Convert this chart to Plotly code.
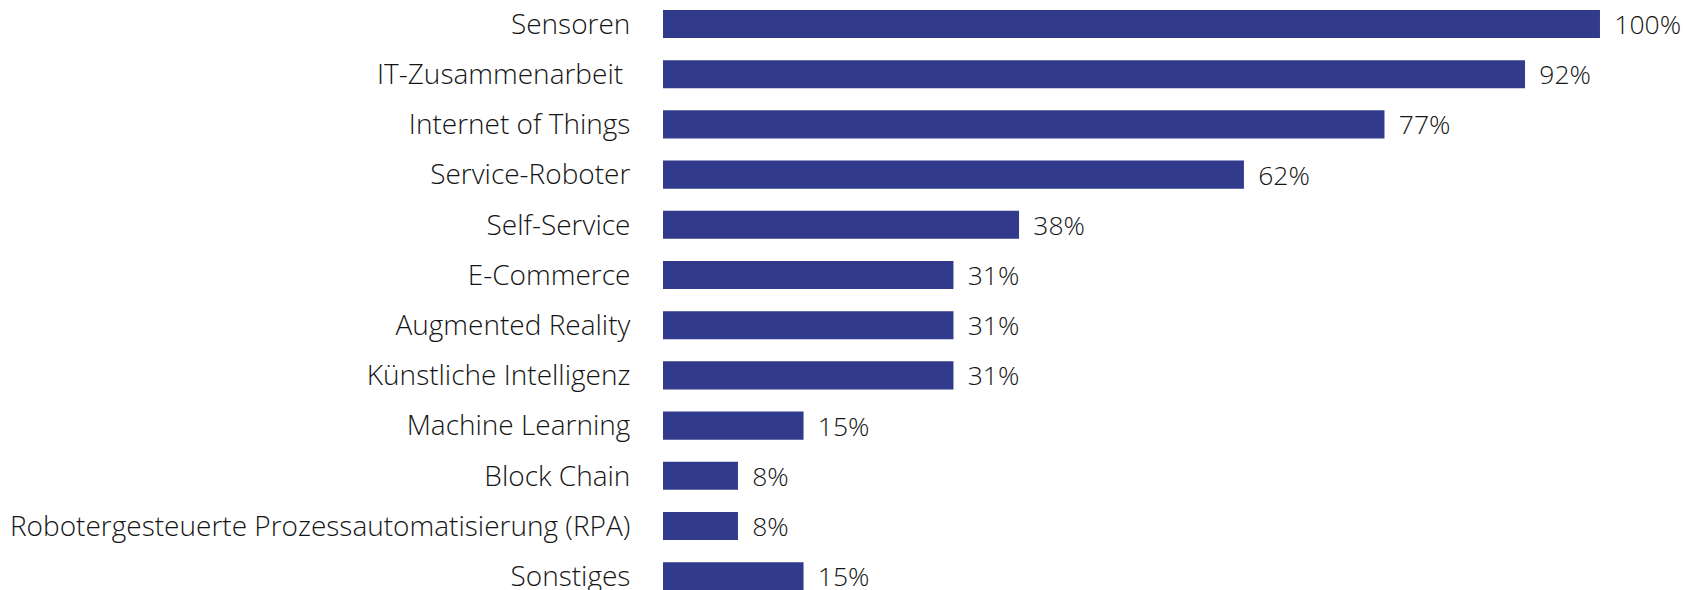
import plotly.graph_objects as go

categories = [
    "Sensoren",
    "IT-Zusammenarbeit\u00a0",
    "Internet of Things",
    "Service-Roboter",
    "Self-Service",
    "E-Commerce",
    "Augmented Reality",
    "Künstliche Intelligenz",
    "Machine Learning",
    "Block Chain",
    "Robotergesteuerte Prozessautomatisierung (RPA)",
    "Sonstiges",
]
values = [100, 92, 77, 62, 38, 31, 31, 31, 15, 8, 8, 15]
value_labels = ["100%", "92%", "77%", "62%", "38%", "31%", "31%", "31%", "15%", "8%", "8%", "15%"]

FONT = "Open Sans"
TEXT_COLOR = "#151515"
BAR_COLOR = "#323A8C"
FSIZE = 28
VSIZE = 26.5
FWEIGHT = 350

fig = go.Figure(
    go.Bar(
        x=values,
        y=categories,
        orientation="h",
        marker=dict(color=BAR_COLOR, line=dict(width=0)),
        width=0.56,
        text=["\u00a0\u2009" + t for t in value_labels],
        textposition="outside",
        constraintext="none",
        textfont=dict(family=FONT, size=VSIZE, color=TEXT_COLOR, weight=FWEIGHT),
        cliponaxis=False,
    )
)

fig.update_layout(
    width=1690,
    height=590,
    margin=dict(l=655, r=15, t=0, b=0, autoexpand=False),
    paper_bgcolor="white",
    plot_bgcolor="white",
    showlegend=False,
    font=dict(family=FONT, size=FSIZE, color=TEXT_COLOR, weight=FWEIGHT),
)
fig.update_xaxes(range=[0, 108.86], visible=False, showgrid=False, zeroline=False)
fig.update_yaxes(
    type="category",
    categoryorder="array",
    categoryarray=categories,
    range=[11.434, -0.319],
    automargin=False,
    showgrid=False,
    zeroline=False,
    showline=False,
    ticks="outside",
    ticklen=26,
    tickcolor="rgba(0,0,0,0)",
    tickfont=dict(family=FONT, size=FSIZE, color=TEXT_COLOR, weight=FWEIGHT),
)

fig.write_html("out.html")
